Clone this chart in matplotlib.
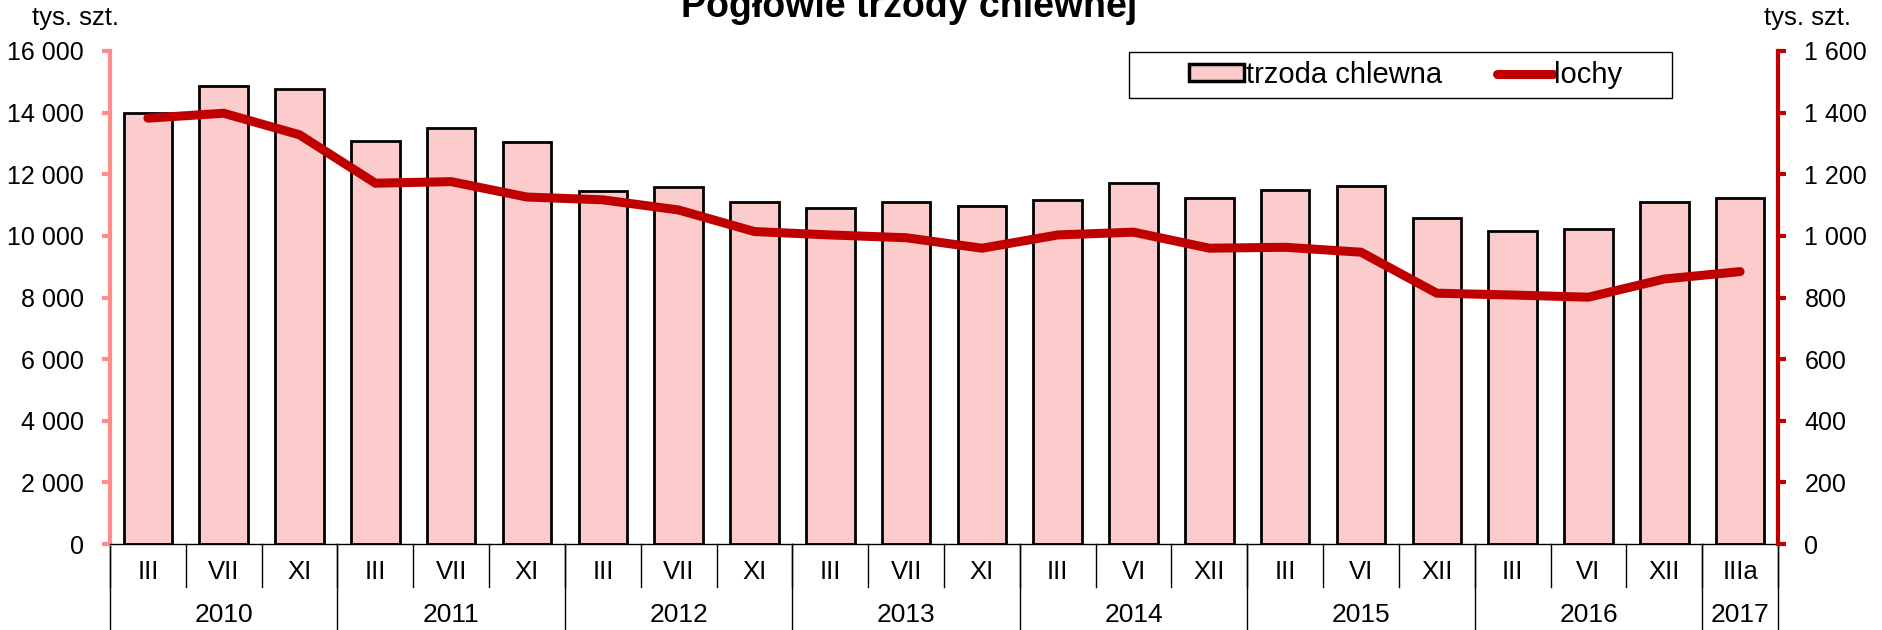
import numpy as np
import matplotlib
matplotlib.use("Agg")
import matplotlib.pyplot as plt
from matplotlib.ticker import FuncFormatter
from matplotlib.lines import Line2D
from matplotlib.patches import Patch, Rectangle

plt.rcParams['font.family'] = ['Liberation Sans', 'DejaVu Sans']

months = ['III', 'VII', 'XI', 'III', 'VII', 'XI', 'III', 'VII', 'XI', 'III', 'VII', 'XI',
          'III', 'VI', 'XII', 'III', 'VI', 'XII', 'III', 'VI', 'XII', 'IIIa']
years = ['2010', '2011', '2012', '2013', '2014', '2015', '2016', '2017']
year_counts = [3, 3, 3, 3, 3, 3, 3, 1]
trzoda = [13980, 14870, 14760, 13080, 13500, 13060, 11470, 11570, 11110, 10920, 11110,
          10980, 11170, 11710, 11240, 11490, 11630, 10570, 10170, 10220, 11090, 11240]
lochy = [1382, 1398, 1328, 1171, 1176, 1126, 1117, 1084, 1014, 1003, 994,
         960, 1003, 1012, 960, 963, 947, 814, 808, 801, 860, 884]

bar_color = '#FCCCCC'
line_color = '#C00000'
left_color = '#FF8C8C'
W, H = 1883, 630

fig = plt.figure(figsize=(W / 100, H / 100), dpi=100)
ax = fig.add_axes([110/W, 86/H, 1668/W, 493/H])
ax2 = ax.twinx()

x = np.arange(len(trzoda))
ax.bar(x, trzoda, width=0.64, color=bar_color, edgecolor='black', linewidth=2)
ax2.plot(x, lochy, color=line_color, linewidth=6.5, solid_capstyle='round', solid_joinstyle='miter')

ax.set_xlim(-0.5, len(x) - 0.5)
ax.set_ylim(0, 16000)
ax2.set_ylim(0, 1600)
ax.set_yticks(np.arange(0, 16001, 2000))
ax2.set_yticks(np.arange(0, 1601, 200))
fmt = FuncFormatter(lambda v, p: f"{int(v):,}".replace(",", " "))
ax.yaxis.set_major_formatter(fmt)
ax2.yaxis.set_major_formatter(fmt)

for a in (ax, ax2):
    a.spines['top'].set_visible(False)
    a.set_xticks([])
ax.spines['right'].set_visible(False)
ax2.spines['left'].set_visible(False)
ax2.spines['bottom'].set_visible(False)
ax.spines['left'].set_color(left_color)
ax.spines['left'].set_linewidth(3)
ax2.spines['right'].set_color(line_color)
ax2.spines['right'].set_linewidth(3)
ax.spines['bottom'].set_linewidth(1)
ax.tick_params(axis='y', colors=left_color, labelcolor='black', length=6, width=3,
               labelsize=18, pad=13)
ax2.tick_params(axis='y', colors=line_color, labelcolor='black', length=6, width=3,
                labelsize=18, pad=13)

# two-level category axis
tr = ax.get_xaxis_transform()
for i, m in enumerate(months):
    ax.text(i, -0.057, m, transform=tr, ha='center', va='center', fontsize=18.5)
for i in range(len(months) + 1):
    ax.add_line(Line2D([i - 0.5, i - 0.5], [0, -0.088], transform=tr, color='black',
                       linewidth=1, clip_on=False))
start = 0
for yr, n in zip(years, year_counts):
    ax.text(start + (n - 1) / 2, -0.144, yr, transform=tr, ha='center', va='center', fontsize=19)
    ax.add_line(Line2D([start - 0.5, start - 0.5], [0, -0.18], transform=tr, color='black',
                       linewidth=1, clip_on=False))
    start += n
ax.add_line(Line2D([start - 0.5, start - 0.5], [0, -0.18], transform=tr, color='black',
                   linewidth=1, clip_on=False))

fig.text(909/W, 1 - 17/H, 'Pogłowie trzody chlewnej', ha='center', va='baseline',
         fontsize=27, fontweight='bold')
fig.text(76/W, 1 - 18/H, 'tys. szt.', ha='center', va='center', fontsize=18.5)
fig.text(1808/W, 1 - 18/H, 'tys. szt.', ha='center', va='center', fontsize=18.5)

# legend with a plain box drawn separately, under the legend entries
ax2.add_patch(Rectangle((1129/W, 1 - 98/H), 543/W, 46/H, transform=fig.transFigure,
                        facecolor='white', edgecolor='black', linewidth=1, zorder=4,
                        clip_on=False))
handles = [Patch(facecolor=bar_color, edgecolor='black', linewidth=2.5),
           Line2D([], [], color=line_color, linewidth=6.5, solid_capstyle='round')]
leg = ax2.legend(handles, ['trzoda chlewna', 'lochy'], loc='center left',
                 bbox_to_anchor=(1189/W, 1 - 75/H), bbox_transform=fig.transFigure,
                 ncol=2, fontsize=21, frameon=False,
                 handlelength=1.9, handleheight=0.5, handletextpad=0.05, columnspacing=1.9,
                 borderpad=0, borderaxespad=0)
leg.set_zorder(6)

fig.savefig('out.png', dpi=100)
